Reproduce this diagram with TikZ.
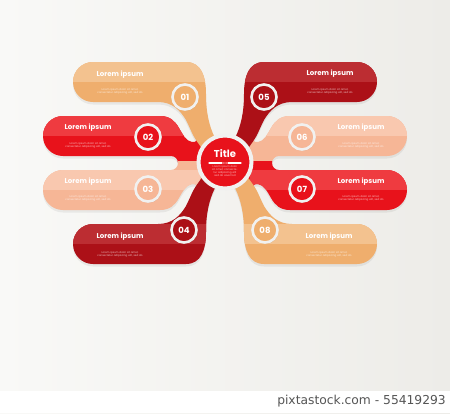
\documentclass[tikz,border=0pt]{standalone}
\usepackage{fontspec}
\setmainfont{Poppins}
\newfontfamily\footfont{DejaVu Sans}
\usetikzlibrary{shadows}
\definecolor{bgA}{HTML}{F9F9F7}
\definecolor{bgB}{HTML}{EDECE8}
\definecolor{orB}{HTML}{EFAE6D}
\definecolor{orL}{HTML}{F3C28F}
\definecolor{reB}{HTML}{E8121B}
\definecolor{reL}{HTML}{EF3B40}
\definecolor{peB}{HTML}{F6B696}
\definecolor{peL}{HTML}{F9C8AF}
\definecolor{drB}{HTML}{AC1017}
\definecolor{drL}{HTML}{BC2D32}
\definecolor{ringc}{HTML}{F1F1F0}
\definecolor{footc}{HTML}{555555}
\newcommand\shapeA{(93,102) .. controls (81.95,102) and (73,93.05) .. (73,82) .. controls (73,70.95) and (81.95,62) .. (93,62) -- (186,62) .. controls (201,62) and (206,76) .. (206,94) .. controls (206,112) and (209,126) .. (215,138) -- (222,152) -- (210,160) -- (196,140) .. controls (193,136) and (190,128) .. (186,120) .. controls (180,110) and (172,102) .. (158,102) -- cycle}
\newcommand\shapeB{(63,156) .. controls (51.95,156) and (43,147.05) .. (43,136) .. controls (43,124.95) and (51.95,116) .. (63,116) -- (160,116) .. controls (170,116) and (175,121) .. (179,128) .. controls (183,135) and (186,141) .. (192,142) .. controls (197,143) and (199,138) .. (196,133) -- (210,148) -- (225,162) -- (215,165) -- (178,165) -- (178,163) .. controls (178,159.13) and (174.87,156) .. (171,156) -- cycle}
\newcommand\branch[4]{%
  \fill[#2] #1;
  \begin{scope}\clip #1; \fill[#3] #4; \end{scope}}
\tikzset{
  lbl/.style={text=white, font=\bfseries\fontsize{7}{8}\selectfont, inner sep=0},
  dummy/.style={text=white, opacity=.7, font=\fontsize{2.6}{3.1}\selectfont, text width=46pt, align=center, inner sep=0},
  numc/.style={circle, fill=#1, draw=ringc, line width=2.6pt, minimum size=25pt, inner sep=0, text=white, font=\bfseries\fontsize{8.5}{9}\selectfont, drop shadow={opacity=.22, shadow xshift=.8pt, shadow yshift=-1.3pt}},
  shad/.style={fill=black, opacity=.06}
}
\begin{document}
\begin{tikzpicture}[x=1pt, y=-1pt]
\useasboundingbox (0,0) rectangle (450,413);
\shade[left color=bgA, right color=bgB] (0,0) rectangle (450,413);
% soft shadows
\begin{scope}[yshift=-2.5pt]
  \fill[shad] \shapeA; \fill[shad] \shapeB;
  \begin{scope}[shift={(0,326)}, yscale=-1] \fill[shad] \shapeA; \fill[shad] \shapeB; \end{scope}
  \begin{scope}[shift={(450,0)}, xscale=-1] \fill[shad] \shapeA; \fill[shad] \shapeB; \end{scope}
  \begin{scope}[shift={(450,326)}, xscale=-1, yscale=-1] \fill[shad] \shapeA; \fill[shad] \shapeB; \end{scope}
\end{scope}
% left side
\branch{\shapeB}{reB}{reL}{(40,116) rectangle (200,136)}
\branch{\shapeA}{orB}{orL}{(60,62) rectangle (215,82)}
\begin{scope}[shift={(0,326)}, yscale=-1]
  \branch{\shapeB}{peB}{peL}{(40,136) rectangle (200,156)}
  \branch{\shapeA}{drB}{drL}{(60,82) rectangle (215,102)}
\end{scope}
% right side
\begin{scope}[shift={(450,0)}, xscale=-1]
  \branch{\shapeB}{peB}{peL}{(40,116) rectangle (200,136)}
  \branch{\shapeA}{drB}{drL}{(60,62) rectangle (215,82)}
\end{scope}
\begin{scope}[shift={(450,326)}, xscale=-1, yscale=-1]
  \branch{\shapeB}{reB}{reL}{(40,136) rectangle (200,156)}
  \branch{\shapeA}{orB}{orL}{(60,82) rectangle (215,102)}
\end{scope}
% labels
\node (l1) [lbl] at (120,75) {Lorem ipsum};
\node (d1) [dummy] at (120,91) {Lorem ipsum dolor sit amet, consectetur adipiscing elit, sed do};
\node (l2) [lbl] at (88,128) {Lorem ipsum};
\node (d2) [dummy] at (88,145) {Lorem ipsum dolor sit amet, consectetur adipiscing elit, sed do};
\node (l3) [lbl] at (88,182) {Lorem ipsum};
\node (d3) [dummy] at (88,198) {Lorem ipsum dolor sit amet, consectetur adipiscing elit, sed do};
\node (l4) [lbl] at (120,237) {Lorem ipsum};
\node (d4) [dummy] at (120,254) {Lorem ipsum dolor sit amet, consectetur adipiscing elit, sed do};
\node (l5) [lbl] at (330,74) {Lorem ipsum};
\node (d5) [dummy] at (330,91) {Lorem ipsum dolor sit amet, consectetur adipiscing elit, sed do};
\node (l6) [lbl] at (361,128) {Lorem ipsum};
\node (d6) [dummy] at (361,145) {Lorem ipsum dolor sit amet, consectetur adipiscing elit, sed do};
\node (l7) [lbl] at (361,182) {Lorem ipsum};
\node (d7) [dummy] at (361,198) {Lorem ipsum dolor sit amet, consectetur adipiscing elit, sed do};
\node (l8) [lbl] at (329,237) {Lorem ipsum};
\node (d8) [dummy] at (329,254) {Lorem ipsum dolor sit amet, consectetur adipiscing elit, sed do};
% number circles
\node (n1) [numc=orB] at (185,97) {01};
\node (n2) [numc=reB] at (148,137) {02};
\node (n3) [numc=peB] at (148,189) {03};
\node (n4) [numc=drB] at (184,230) {04};
\node (n5) [numc=drB] at (264,97) {05};
\node (n6) [numc=peB] at (302,137) {06};
\node (n7) [numc=reB] at (302,189) {07};
\node (n8) [numc=orB] at (265,230) {08};
% centre
\node (ctr) [circle, fill=reB, draw=ringc, line width=4pt, minimum size=53pt, drop shadow={opacity=.25, shadow xshift=1pt, shadow yshift=-1.5pt}] at (225,162) {};
\node (ttl) [lbl, font=\bfseries\fontsize{10}{11}\selectfont] at (225,154) {Title};
\coordinate (b1) at (209,163); \coordinate (b2) at (222,163);
\coordinate (b3) at (228,163); \coordinate (b4) at (241,163);
\draw[white, line width=1.1pt, line cap=round] (b1) -- (b2) (b3) -- (b4);
\foreach \xx in {223.6,225,226.4} \fill[white] (\xx,163) circle (0.55);
\node (ctxt) [dummy, text width=32pt] at (225,171) {Lorem ipsum dolor sit amet, consectetur adipiscing elit sed do eiusmod};
% footer
\fill[white] (0,391) rectangle (450,413);
\node (foot) [anchor=base east, font=\footfont\fontsize{12.3}{13}\selectfont, text=footc, inner sep=0] at (446,404.5) {pixtastock.com - 55419293};
\end{tikzpicture}
\end{document}
